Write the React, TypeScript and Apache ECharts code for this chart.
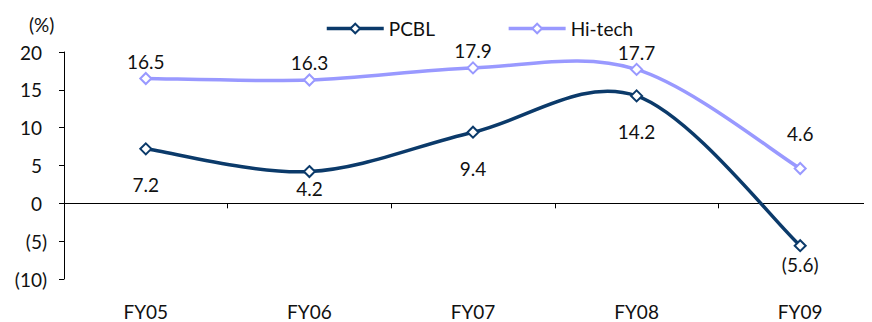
import React, { useEffect, useRef } from "react";
import * as echarts from "echarts";

const categories = ["FY05", "FY06", "FY07", "FY08", "FY09"];
const pcbl = [7.2, 4.2, 9.4, 14.2, -5.6];
const hitech = [16.5, 16.3, 17.9, 17.7, 4.6];
const pcblLabelDist = [20, 1, 20, 20, 3];
const hitechLabelDist = [1, 1, 1, 1, 19];

const PCBL_COLOR = "#0b3a6a";
const HITECH_COLOR = "#9999ff";
const FONT = "Lato";
const FS = 19;
const fmt = (v: number) => (v < 0 ? `(${Math.abs(v)})` : `${v}`);

// Excel-like smoothed curve (Catmull-Rom converted to cubic Bezier segments)
function curveRenderer(values: number[], color: string) {
  return (_params: any, api: any) => {
    const pts = values.map((v, i) => api.coord([i, v]));
    const children: any[] = [];
    for (let i = 0; i < pts.length - 1; i++) {
      const p0 = pts[i - 1] || pts[i];
      const p1 = pts[i];
      const p2 = pts[i + 1];
      const p3 = pts[i + 2] || pts[i + 1];
      children.push({
        type: "bezierCurve",
        shape: {
          x1: p1[0],
          y1: p1[1],
          cpx1: p1[0] + (p2[0] - p0[0]) / 6,
          cpy1: p1[1] + (p2[1] - p0[1]) / 6,
          cpx2: p2[0] - (p3[0] - p1[0]) / 6,
          cpy2: p2[1] - (p3[1] - p1[1]) / 6,
          x2: p2[0],
          y2: p2[1],
        },
        style: { stroke: color, lineWidth: 3.5, fill: null, lineCap: "round" },
      });
    }
    return { type: "group", children };
  };
}

export default function App() {
  const ref = useRef<HTMLDivElement>(null);
  useEffect(() => {
    const chart = echarts.init(ref.current!, null, { renderer: "svg" });
    const mk = (vals: number[], dists: number[], pos: string) =>
      vals.map((v, i) => ({
        value: v,
        label: { show: true, position: pos, distance: dists[i] },
      }));
    const labelStyle = {
      fontSize: FS,
      color: "#111",
      fontFamily: FONT,
      formatter: (p: any) => fmt(p.value),
    };
    chart.setOption({
      animation: false,
      textStyle: { fontFamily: FONT },
      grid: {
        left: 64,
        top: 52,
        bottom: 43,
        right: -10,
        containLabel: false,
        outerBoundsMode: "none",
      },
      legend: {
        top: 14,
        left: 320,
        itemWidth: 57,
        itemHeight: 12,
        itemGap: 72,
        textStyle: { fontSize: FS, color: "#111", fontFamily: FONT },
        data: [
          { name: "PCBL", lineStyle: { opacity: 1, width: 3.5, color: PCBL_COLOR } },
          { name: "Hi-tech", lineStyle: { opacity: 1, width: 3.5, color: HITECH_COLOR } },
        ],
      },
      graphic: [
        {
          type: "text",
          left: 29,
          top: 15,
          style: { text: "(%)", fontSize: FS, fill: "#111", fontFamily: FONT },
        },
      ],
      xAxis: [
        {
          type: "category",
          data: categories,
          boundaryGap: true,
          axisLine: { onZero: true, lineStyle: { color: "#000", width: 1 } },
          axisTick: { show: true, length: 5, lineStyle: { color: "#000" } },
          axisLabel: { show: false },
        },
        {
          type: "category",
          data: categories,
          boundaryGap: true,
          position: "bottom",
          axisLine: { show: false, onZero: false },
          axisTick: { show: false },
          axisLabel: {
            margin: 23,
            fontSize: FS,
            lineHeight: 19,
            color: "#111",
            fontFamily: FONT,
          },
        },
      ],
      yAxis: {
        type: "value",
        min: -10,
        max: 20,
        interval: 5,
        splitLine: { show: false },
        axisLine: { show: true, lineStyle: { color: "#000", width: 1 } },
        axisTick: { show: true, length: 5, lineStyle: { color: "#000" } },
        axisLabel: {
          margin: 17,
          fontSize: FS,
          color: "#111",
          fontFamily: FONT,
          formatter: (v: number) => (v < 0 ? fmt(v) : `{p|${v}}`),
          rich: { p: { fontSize: FS, color: "#111", fontFamily: FONT, padding: [0, 5, 0, 0] } },
        },
      },
      series: [
        {
          name: "Hi-tech-curve",
          type: "custom",
          data: [[0, 0]],
          renderItem: curveRenderer(hitech, HITECH_COLOR),
          z: 1,
          silent: true,
        },
        {
          name: "PCBL-curve",
          type: "custom",
          data: [[0, 0]],
          renderItem: curveRenderer(pcbl, PCBL_COLOR),
          z: 1,
          silent: true,
        },
        {
          name: "PCBL",
          type: "line",
          data: mk(pcbl, pcblLabelDist, "bottom"),
          symbol: "diamond",
          symbolSize: 11,
          lineStyle: { color: PCBL_COLOR, width: 3.5, opacity: 0 },
          itemStyle: { color: "#fff", borderColor: PCBL_COLOR, borderWidth: 2 },
          label: labelStyle,
          z: 3,
        },
        {
          name: "Hi-tech",
          type: "line",
          data: mk(hitech, hitechLabelDist, "top"),
          symbol: "diamond",
          symbolSize: 11,
          lineStyle: { color: HITECH_COLOR, width: 3.5, opacity: 0 },
          itemStyle: { color: "#fff", borderColor: HITECH_COLOR, borderWidth: 2 },
          label: labelStyle,
          z: 3,
        },
      ],
    });
    return () => chart.dispose();
  }, []);
  return <div ref={ref} style={{ width: 872, height: 322, marginLeft: -8, marginTop: -8 }} />;
}
